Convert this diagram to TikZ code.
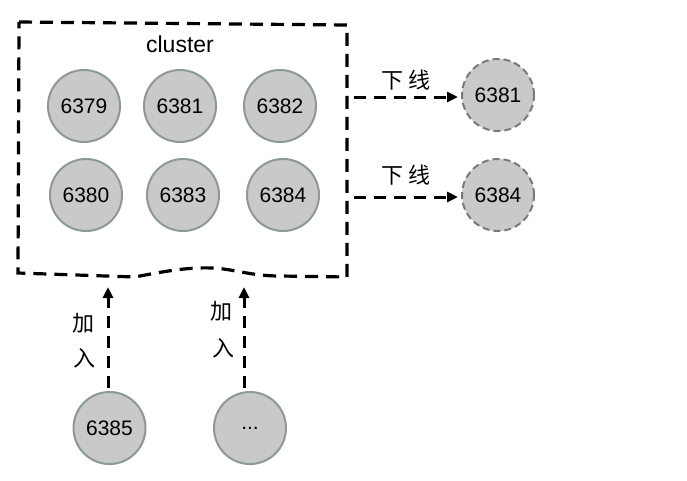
\documentclass[tikz,border=0pt]{standalone}
\usepackage{fontspec}
\setmainfont{Liberation Sans}
\newfontfamily\cjk{Noto Sans CJK SC}
\usetikzlibrary{arrows.meta}
\definecolor{nodefill}{HTML}{C9C9C9}
\definecolor{nodeedge}{HTML}{8C9A92}
\definecolor{goneedge}{HTML}{7A7A7A}

\begin{document}
\begin{tikzpicture}[x=1pt,y=-1pt,
  redis/.style={circle,draw=nodeedge,fill=nodefill,line width=2pt,minimum size=72pt,inner sep=0pt,font=\fontsize{21}{22}\selectfont},
  gone/.style={redis,draw=goneedge,dash pattern=on 7pt off 4pt},
  move/.style={line width=3pt,dash pattern=on 12pt off 8pt,-{Triangle[length=11pt,width=10pt]}},
  tag/.style={font=\cjk\fontsize{22}{24}\selectfont,inner sep=0pt}]
\fill[white] (0.000000,0.000000) rectangle (687.000000,480.000000);
% Drawing cluster box
\draw[line width=3.2pt,dash pattern=on 13pt off 8pt] (19.000000,22.000000) -- (347.000000,25.000000) -- (347.000000,277.000000)
  -- (280.000000,276.000000) .. controls (250.000000,276.000000) and (235.000000,269.000000) .. (212.000000,268.000000)
  .. controls (190.000000,267.000000) and (165.000000,271.000000) .. (135.000000,277.000000) -- (18.000000,273.000000) -- cycle;
\node[font=\fontsize{23}{24}\selectfont] (title) at (180.000000,44.000000) {cluster};
% Drawing cluster nodes
\node[redis] (n6379) at (84.000000,106.000000) {6379};
\node[redis] (n6381) at (180.000000,106.000000) {6381};
\node[redis] (n6382) at (280.000000,106.000000) {6382};
\node[redis] (n6380) at (86.000000,195.000000) {6380};
\node[redis] (n6383) at (183.000000,195.000000) {6383};
\node[redis] (n6384) at (283.000000,195.000000) {6384};
% Done with cluster; drawing removed nodes
\node[gone] (off1) at (498.000000,95.000000) {6381};
\node[gone] (off2) at (498.000000,195.000000) {6384};
\coordinate (out1) at (354.000000,97.000000);
\coordinate (out2) at (354.000000,197.000000);
\draw[move,shorten >=3pt] (out1) -- (off1.west |- out1);
\draw[move,shorten >=3pt] (out2) -- (off2.west |- out2);
\node[tag] (lbl1) at (406.000000,80.000000) {下\hspace{5pt}线};
\node[tag] (lbl2) at (406.000000,175.000000) {下\hspace{5pt}线};
% Drawing joining nodes
\node[redis] (new1) at (109.500000,428.000000) {6385};
\node[redis] (new2) at (250.000000,428.000000) {...};
\coordinate (in1) at (108.000000,287.000000);
\coordinate (in2) at (244.000000,287.000000);
\draw[move,shorten <=3pt] (new1.north -| in1) -- (in1);
\draw[move,shorten <=3pt] (new2.north -| in2) -- (in2);
\node[tag] (add1) at (83.000000,323.000000) {加};
\node[tag] (add1b) at (84.000000,358.000000) {入};
\node[tag] (add2) at (221.000000,311.000000) {加};
\node[tag] (add2b) at (223.000000,348.000000) {入};
% Done with joining nodes
\end{tikzpicture}
\end{document}
